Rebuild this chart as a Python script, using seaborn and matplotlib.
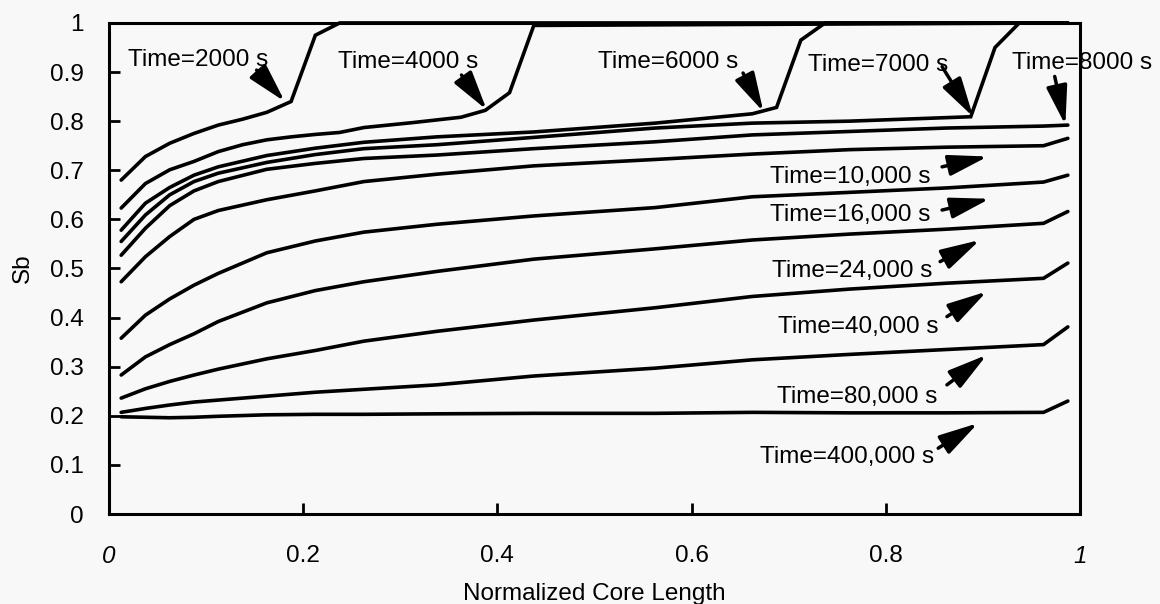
import numpy as np
import pandas as pd
import matplotlib
matplotlib.use("Agg")
import matplotlib.pyplot as plt
import seaborn as sns

# ---- data ----
x_low = [0.0125, 0.0375, 0.0625, 0.0875, 0.1125, 0.1625, 0.2125, 0.2625,
         0.3375, 0.4375, 0.5625, 0.6625, 0.7625, 0.8625, 0.9625, 0.9875]

x_2000 = [0.0125, 0.0375, 0.0625, 0.0875, 0.1125, 0.1375, 0.1625, 0.1875,
          0.2125, 0.2375, 0.9875]
y_2000 = [0.680, 0.728, 0.755, 0.775, 0.792, 0.804, 0.818, 0.840,
          0.975, 1.0, 1.0]

x_4000 = [0.0125, 0.0375, 0.0625, 0.0875, 0.1125, 0.1375, 0.1625, 0.1875,
          0.2125, 0.2375, 0.2625, 0.3125, 0.3625, 0.3875, 0.4125, 0.4375, 0.9875]
y_4000 = [0.623, 0.673, 0.701, 0.718, 0.738, 0.752, 0.762, 0.768,
          0.773, 0.777, 0.787, 0.797, 0.808, 0.822, 0.858, 0.995, 1.0]

x_6000 = [0.0125, 0.0375, 0.0625, 0.0875, 0.1125, 0.1625, 0.2125, 0.2625,
          0.3375, 0.4375, 0.5625, 0.6625, 0.6875, 0.7125, 0.7375, 0.9875]
y_6000 = [0.578, 0.633, 0.665, 0.690, 0.707, 0.730, 0.745, 0.757,
          0.768, 0.778, 0.796, 0.815, 0.828, 0.965, 1.0, 1.0]

x_7000 = [0.0125, 0.0375, 0.0625, 0.0875, 0.1125, 0.1625, 0.2125, 0.2625,
          0.3375, 0.4375, 0.5625, 0.6625, 0.7625, 0.8875, 0.9125, 0.9375, 0.9875]
y_7000 = [0.555, 0.609, 0.650, 0.677, 0.694, 0.716, 0.732, 0.744,
          0.752, 0.767, 0.786, 0.796, 0.800, 0.809, 0.950, 1.0, 1.0]

y_8000 = [0.527, 0.582, 0.628, 0.658, 0.677, 0.702, 0.714, 0.724,
          0.731, 0.744, 0.758, 0.772, 0.779, 0.786, 0.790, 0.792]
y_10000 = [0.473, 0.524, 0.565, 0.600, 0.618, 0.640, 0.658, 0.677,
           0.692, 0.709, 0.722, 0.733, 0.742, 0.747, 0.750, 0.765]
y_16000 = [0.358, 0.405, 0.438, 0.466, 0.490, 0.532, 0.556, 0.574,
           0.590, 0.607, 0.624, 0.646, 0.655, 0.664, 0.676, 0.690]
y_24000 = [0.283, 0.320, 0.345, 0.367, 0.392, 0.430, 0.455, 0.473,
           0.494, 0.519, 0.540, 0.558, 0.570, 0.580, 0.592, 0.616]
y_40000 = [0.236, 0.255, 0.270, 0.283, 0.295, 0.316, 0.333, 0.352,
           0.372, 0.395, 0.420, 0.443, 0.458, 0.470, 0.480, 0.511]
y_80000 = [0.207, 0.215, 0.222, 0.228, 0.232, 0.240, 0.248, 0.254,
           0.263, 0.281, 0.297, 0.314, 0.325, 0.335, 0.345, 0.381]
y_400000 = [0.198, 0.197, 0.196, 0.197, 0.199, 0.202, 0.203, 0.203,
            0.204, 0.205, 0.205, 0.207, 0.206, 0.206, 0.207, 0.230]

tick_x = [0, 0.2, 0.4, 0.6, 0.8, 1]
tick_x_labels = ["0", "0.2", "0.4", "0.6", "0.8", "1"]
tick_y = [0, 0.1, 0.2, 0.3, 0.4, 0.5, 0.6, 0.7, 0.8, 0.9, 1]
tick_y_labels = ["0", "0.1", "0.2", "0.3", "0.4", "0.5", "0.6", "0.7", "0.8", "0.9", "1"]

labels = ["Time=2000 s", "Time=4000 s", "Time=6000 s", "Time=7000 s", "Time=8000 s",
          "Time=10,000 s", "Time=16,000 s", "Time=24,000 s", "Time=40,000 s",
          "Time=80,000 s", "Time=400,000 s"]
# label anchor (left, vcenter) and arrow start/tip in data coords
label_pos = [(0.020, 0.925), (0.236, 0.921), (0.504, 0.921), (0.720, 0.914), (0.930, 0.918),
             (0.681, 0.687), (0.681, 0.609), (0.683, 0.494), (0.689, 0.381),
             (0.688, 0.239), (0.670, 0.117)]
arrow_from = [(0.152, 0.904), (0.363, 0.894), (0.653, 0.898), (0.858, 0.911), (0.974, 0.891),
              (0.858, 0.707), (0.858, 0.619), (0.856, 0.514), (0.863, 0.402),
              (0.863, 0.263), (0.854, 0.134)]
arrow_to = [(0.181, 0.840), (0.389, 0.823), (0.674, 0.819), (0.890, 0.809), (0.985, 0.792),
            (0.905, 0.728), (0.907, 0.642), (0.897, 0.558), (0.904, 0.453),
            (0.904, 0.324), (0.895, 0.185)]

# ---- build table ----
rows = []
series = [("2000", x_2000, y_2000), ("4000", x_4000, y_4000),
          ("6000", x_6000, y_6000), ("7000", x_7000, y_7000),
          ("8000", x_low, y_8000), ("10000", x_low, y_10000),
          ("16000", x_low, y_16000), ("24000", x_low, y_24000),
          ("40000", x_low, y_40000), ("80000", x_low, y_80000),
          ("400000", x_low, y_400000)]
for name, xs, ys in series:
    for i, (a, b) in enumerate(zip(xs, ys)):
        rows.append({"curve": name, "order": i, "x": a, "Sb": b})
df = pd.DataFrame(rows)

sns.set_theme(style="white")
plt.rcParams["font.family"] = ["Liberation Sans", "DejaVu Sans"]
plt.rcParams["text.color"] = "black"
plt.rcParams["axes.labelcolor"] = "black"
plt.rcParams["xtick.color"] = "black"
plt.rcParams["ytick.color"] = "black"
bg = "#f8f8f8"

fig = plt.figure(figsize=(11.6, 6.04), dpi=100, facecolor=bg)
ax = fig.add_axes([0.094, 0.149, 0.837, 0.813], facecolor=bg)

sns.lineplot(data=df, x="x", y="Sb", units="curve", estimator=None, sort=False,
             color="black", lw=2.6, ax=ax, legend=False)
for ln in ax.lines:
    ln.set_clip_on(False)
    ln.set_solid_joinstyle("miter")

ax.set_xlim(0, 1)
ax.set_ylim(0, 1)
ax.set_xticks(tick_x)
ax.set_xticklabels(tick_x_labels, fontsize=17.5)
ax.set_yticks(tick_y)
ax.set_yticklabels(tick_y_labels, fontsize=17.5)
for t in (ax.get_xticklabels()[0], ax.get_xticklabels()[-1]):
    t.set_style("italic")
ax.tick_params(axis="x", direction="in", length=8, width=2, pad=22, colors="black",
               bottom=True, top=False)
ax.tick_params(axis="y", direction="in", length=8, width=2, pad=18, colors="black",
               left=True, right=False)
for s in ax.spines.values():
    s.set_linewidth(2.2)
    s.set_color("black")

ax.set_xlabel("Normalized Core Length", fontsize=17.5, labelpad=11, color="black")
ax.set_ylabel("Sb", fontsize=17.5, labelpad=12, color="black")

for lab, (lx, ly), (fx, fy), (tx, ty) in zip(labels, label_pos, arrow_from, arrow_to):
    ax.text(lx, ly, lab, fontsize=17.5, ha="left", va="center", clip_on=False,
            color="black")
    ax.annotate("", xy=(tx, ty), xytext=(fx, fy), annotation_clip=False,
                arrowprops=dict(arrowstyle="-|>,head_length=1.2,head_width=0.32",
                                lw=2.5, color="black", mutation_scale=20,
                                shrinkA=0, shrinkB=0))

fig.savefig("out.png", dpi=100, facecolor=bg)
